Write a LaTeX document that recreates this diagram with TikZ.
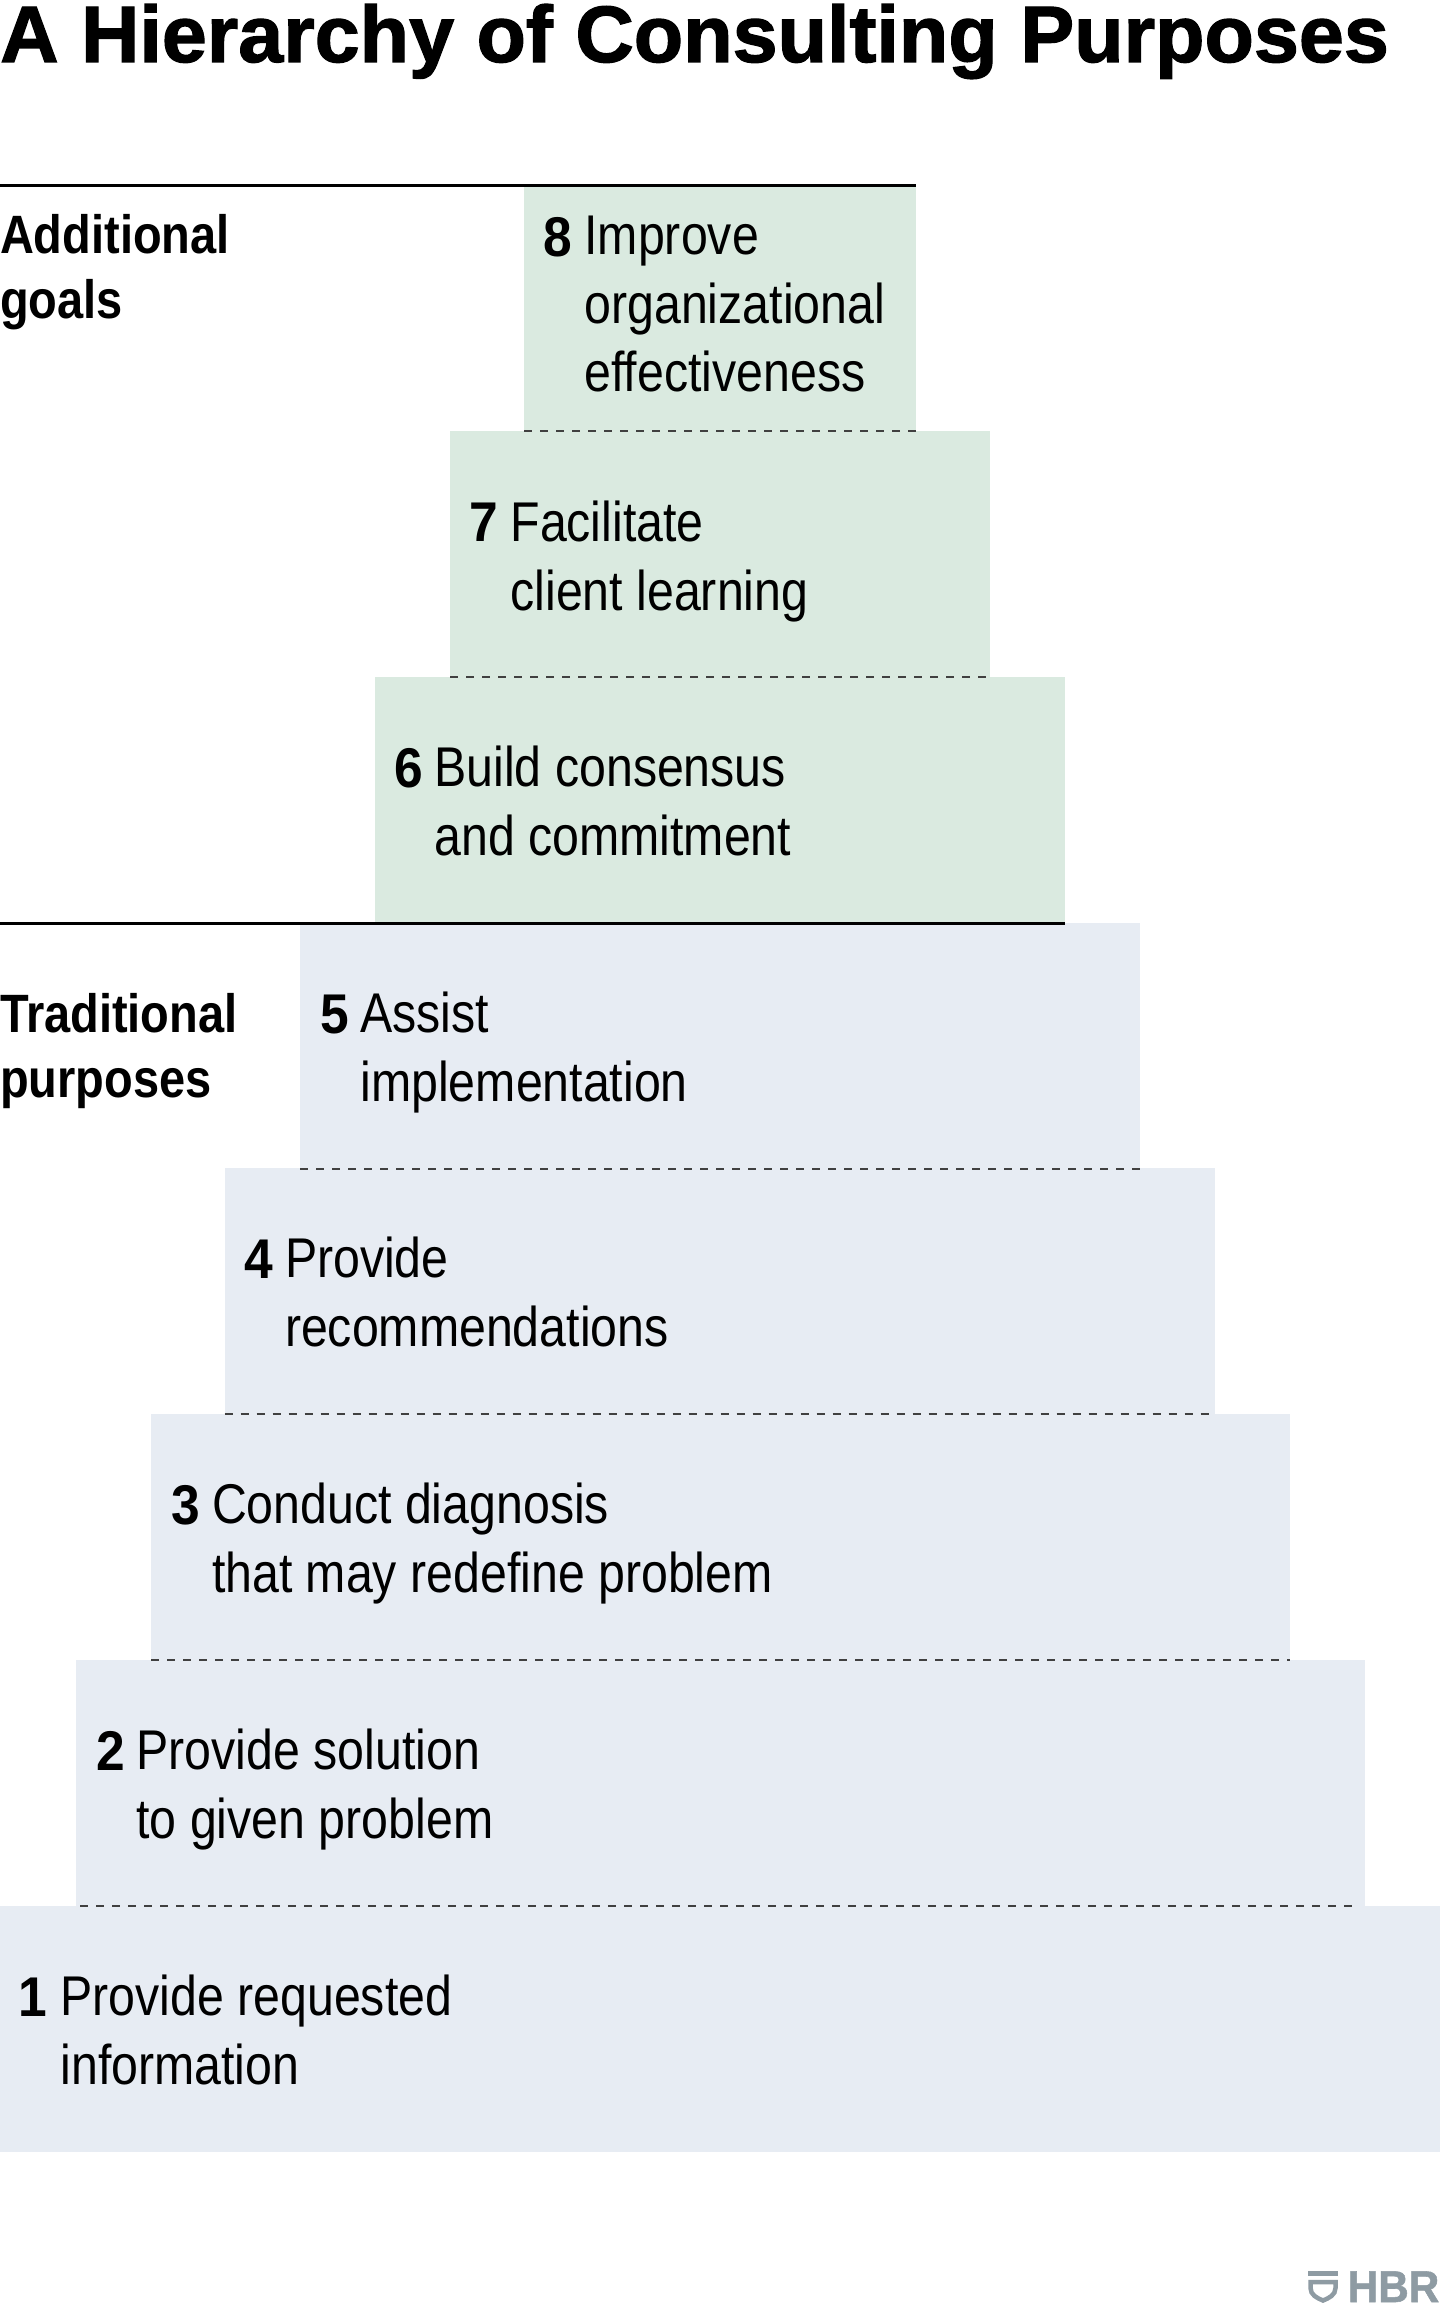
\documentclass[tikz,border=0pt]{standalone}
\usepackage{fontspec}
\setmainfont{Liberation Sans}
\newfontfamily\bodyfont[FakeStretch=0.862]{Liberation Sans}
\newfontfamily\numfont[FakeStretch=0.92]{Liberation Sans}
\newfontfamily\sidefont[FakeStretch=0.87]{Liberation Sans}
\newfontfamily\headfont[FakeStretch=1.011,FakeBold=1.6]{Liberation Sans}
\newfontfamily\logofont[FakeStretch=0.95,FakeBold=1.2]{Liberation Sans}
\definecolor{blueb}{HTML}{E7ECF3}
\definecolor{greenb}{HTML}{DAEAE0}
\definecolor{logoc}{HTML}{8E9BA3}
\tikzset{
  x=1pt,y=-1pt,
  stepgreen/.style={fill=greenb,draw=none,inner sep=0,outer sep=0,minimum height=246pt,anchor=north west},
  stepblue/.style={fill=blueb,draw=none,inner sep=0,outer sep=0,minimum height=246pt,anchor=north west},
  numlabel/.style={inner sep=0,outer sep=0,anchor=base west,font=\numfont\bfseries\fontsize{56}{68}\selectfont},
  steptext/.style={inner sep=0,outer sep=0,anchor=base west,align=left,font=\bodyfont\fontsize{56}{68.3}\selectfont},
  sidelabel/.style={inner sep=0,outer sep=0,anchor=base west,align=left,font=\sidefont\bfseries\fontsize{54}{65}\selectfont},
  ruleline/.style={line width=3pt,black},
  dashline/.style={line width=1.5pt,black!75,dash pattern=on 8pt off 8pt},
}
\begin{document}
\begin{tikzpicture}
\useasboundingbox (0,0) rectangle (1440,2304);
\fill[white] (0,0) rectangle (1440,2304);
\node[inner sep=0,anchor=base west,font=\headfont\bfseries\fontsize{80}{90}\selectfont] (title) at (0,62) {A Hierarchy of Consulting Purposes};
% steps
\node[stepgreen,minimum width=391.5pt] (s8) at (524,185) {};
\node[stepgreen,minimum width=540pt] (s7) at (450,431) {};
\node[stepgreen,minimum width=690pt] (s6) at (374.5,677) {};
\node[stepblue,minimum width=840pt] (s5) at (300,923) {};
\node[stepblue,minimum width=990pt] (s4) at (224.5,1168) {};
\node[stepblue,minimum width=1139pt] (s3) at (151,1414) {};
\node[stepblue,minimum width=1289pt] (s2) at (76,1660) {};
\node[stepblue,minimum width=1440pt] (s1) at (0,1906) {};
% rules
\coordinate (r1) at (0,185);
\coordinate (r2) at (0,923);
\draw[ruleline] (r1) -- (s8.north east);
\draw[ruleline] (r2) -- (s5.north west -| s6.east);
% dashed
\draw[dashline] (s8.south west) -- (s8.south east);
\draw[dashline] (s7.south west) -- (s7.south east);
\draw[dashline] (s5.south west) -- (s5.south east);
\draw[dashline] (s4.south west) -- (s4.south east);
\draw[dashline] (s3.south west) -- (s3.south east);
\draw[dashline] ([xshift=4pt]s2.south west) -- ([xshift=-10pt]s2.south east);
% side labels
\node[sidelabel] (addl) at (0,318) {Additional\\goals};
\node[sidelabel] (trad) at (0,1097) {Traditional\\purposes};
% numbers and texts
\node[numlabel] (n8) at (543.5,256) {8};
\node[steptext] (t8) at (584.5,391.5) {Improve\\organizational\\effectiveness};
\node[numlabel] (n7) at (469.5,541) {7};
\node[steptext] (t7) at (510.5,610) {Facilitate\\client learning};
\node[numlabel] (n6) at (394.5,787) {6};
\node[steptext] (t6) at (434.5,855) {Build consensus\\and commitment};
\node[numlabel] (n5) at (320,1033) {5};
\node[steptext] (t5) at (360.5,1101) {Assist\\implementation};
\node[numlabel] (n4) at (244.5,1278) {4};
\node[steptext] (t4) at (285,1346) {Provide\\recommendations};
\node[numlabel] (n3) at (171,1524) {3};
\node[steptext] (t3) at (212,1592) {Conduct diagnosis\\that may redefine problem};
\node[numlabel] (n2) at (96,1770) {2};
\node[steptext] (t2) at (136.5,1838) {Provide solution\\to given problem};
\node[numlabel] (n1) at (18,2016) {1};
\node[steptext] (t1) at (60.5,2084) {Provide requested\\information};
% logo
\fill[logoc] (1308,2271) rectangle (1338,2276);
\draw[logoc,line width=4.5pt] (1310.5,2282) -- (1335.5,2282) -- (1335.5,2288) .. controls (1335.5,2295) and (1329,2298) .. (1323,2300.5) .. controls (1317,2298) and (1310.5,2295) .. (1310.5,2288) -- cycle;
\node[inner sep=0,anchor=base east,text=logoc,font=\logofont\bfseries\fontsize{44.5}{46}\selectfont] (hbr) at (1439.5,2302) {HBR};
\end{tikzpicture}
\end{document}
